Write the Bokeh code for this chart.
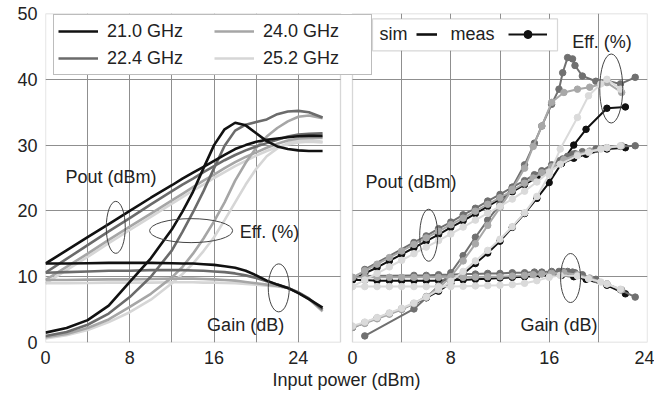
from bokeh.plotting import figure
from bokeh.models import (Range1d, FixedTicker, Grid, Legend, LegendItem,
                          Label, BoxAnnotation)
from bokeh.embed import file_html
from bokeh.resources import INLINE

# ---------------- data ----------------
freqs = ["21.0 GHz", "22.4 GHz", "24.0 GHz", "25.2 GHz"]
colors_sim = ["#111111", "#6b6b6b", "#a6a6a6", "#d6d6d6"]
colors_meas = ["#111111", "#707070", "#a8a8a8", "#dadada"]

# simulated (left panel), input power in dBm
x_sim = [0, 2, 4, 6, 8, 10, 12, 13, 14, 15, 16, 17, 18, 19, 20, 21, 22, 23, 24, 25, 26.3]

pout_sim_21_0 = [12.0, 14.0, 16.0, 18.0, 20.0, 22.0, 23.9, 24.9, 25.8, 26.7, 27.6, 28.5, 29.4, 30.0, 30.5, 30.8, 31.0, 31.2, 31.35, 31.4, 31.4]
gain_sim_21_0 = [12.0, 12.0, 12.05, 12.1, 12.1, 12.1, 12.05, 12.0, 12.0, 11.9, 11.8, 11.6, 11.35, 10.9, 10.2, 9.4, 8.8, 8.3, 7.5, 6.6, 5.3]
eff_sim_21_0 = [1.5, 2.2, 3.4, 5.6, 9.2, 12.8, 17.2, 19.9, 22.9, 26.5, 30.0, 32.4, 33.4, 33.0, 31.8, 30.6, 29.8, 29.4, 29.2, 29.1, 29.1]

pout_sim_22_4 = [10.6, 12.7, 14.8, 16.9, 18.9, 21.0, 23.0, 24.0, 24.9, 25.9, 26.8, 27.7, 28.5, 29.2, 29.8, 30.3, 30.8, 31.3, 31.6, 31.7, 31.8]
gain_sim_22_4 = [10.6, 10.7, 10.8, 10.9, 10.9, 11.0, 11.0, 11.0, 10.95, 10.9, 10.8, 10.7, 10.5, 10.2, 9.8, 9.3, 8.8, 8.3, 7.6, 6.7, 5.0]
eff_sim_22_4 = [1.0, 1.6, 2.7, 4.4, 6.9, 10.0, 14.0, 16.8, 19.8, 23.0, 26.5, 29.9, 32.2, 33.1, 33.5, 33.9, 34.7, 35.1, 35.2, 35.0, 34.2]

pout_sim_24_0 = [9.5, 11.5, 13.5, 15.6, 17.6, 19.6, 21.6, 22.6, 23.6, 24.6, 25.5, 26.5, 27.4, 28.2, 28.9, 29.6, 30.2, 30.7, 31.0, 31.1, 31.1]
gain_sim_24_0 = [9.5, 9.5, 9.55, 9.6, 9.6, 9.65, 9.7, 9.7, 9.7, 9.65, 9.6, 9.5, 9.4, 9.2, 9.0, 8.8, 8.6, 8.3, 7.6, 6.6, 4.8]
eff_sim_24_0 = [0.8, 1.3, 2.2, 3.5, 5.4, 7.4, 9.9, 11.5, 13.5, 15.8, 18.4, 21.3, 24.6, 27.3, 29.6, 31.3, 32.6, 33.6, 34.3, 34.5, 34.1]

pout_sim_25_2 = [9.0, 11.0, 13.0, 15.1, 17.1, 19.1, 21.1, 22.1, 23.1, 24.0, 25.0, 25.9, 26.8, 27.6, 28.4, 29.1, 29.7, 30.1, 30.4, 30.5, 30.4]
gain_sim_25_2 = [9.0, 9.0, 9.05, 9.1, 9.1, 9.1, 9.15, 9.15, 9.15, 9.1, 9.1, 9.05, 9.0, 8.9, 8.8, 8.65, 8.5, 8.3, 7.6, 6.6, 4.7]
eff_sim_25_2 = [0.6, 1.1, 1.9, 3.1, 4.6, 6.5, 9.0, 10.4, 12.0, 13.9, 16.0, 18.6, 21.3, 24.0, 26.4, 28.3, 29.5, 30.3, 30.7, 30.8, 30.5]

# measured (right panel)
x_meas_21_0 = [0, 1, 2, 3, 4, 5, 6, 7, 8, 9, 10, 11, 12, 13, 14, 15, 16, 17, 18, 19, 20.7, 22.2]
pout_meas_21_0 = [9.5, 10.5, 11.4, 12.4, 13.4, 14.4, 15.4, 16.4, 17.5, 18.5, 19.6, 20.7, 21.8, 22.9, 24.0, 25.1, 26.2, 27.2, 28.0, 28.6, 29.4, 29.6]
gain_meas_21_0 = [9.5, 9.5, 9.4, 9.4, 9.4, 9.4, 9.4, 9.4, 9.5, 9.5, 9.6, 9.7, 9.8, 9.9, 10.0, 10.1, 10.2, 10.2, 10.0, 9.6, 8.7, 7.4]
eff_meas_21_0 = [2.3, 3.0, 3.7, 4.4, 5.1, 5.9, 6.8, 7.8, 9.0, 10.4, 12.0, 13.6, 15.4, 17.5, 19.6, 21.9, 24.3, 27.2, 30.0, 32.4, 35.6, 35.8]

x_meas_22_4 = [1, 5, 6, 7, 8, 9, 10, 11, 12, 13, 14, 14.8, 15.4, 16.2, 16.8, 17.1, 17.5, 17.9, 18.1, 18.7, 19.8, 20.7, 21.8, 23.0]
pout_meas_22_4 = [11.1, 15.2, 16.2, 17.3, 18.3, 19.4, 20.4, 21.5, 22.5, 23.6, 24.6, 25.5, 26.1, 27.0, 27.6, 27.9, 28.3, 28.6, 28.7, 29.0, 29.4, 29.6, 29.8, 29.9]
gain_meas_22_4 = [10.1, 10.2, 10.2, 10.3, 10.3, 10.4, 10.4, 10.5, 10.5, 10.6, 10.6, 10.7, 10.7, 10.8, 10.8, 10.8, 10.8, 10.7, 10.6, 10.3, 9.6, 8.9, 8.0, 6.9]
eff_meas_22_4 = [1.0, 5.1, 6.8, 8.6, 10.6, 13.2, 16.0, 18.6, 21.0, 23.6, 27.0, 30.3, 32.9, 36.2, 38.5, 41.0, 43.3, 43.1, 42.1, 40.5, 39.7, 39.8, 39.3, 40.3]

x_meas_24_0 = [0, 1, 2, 3, 4, 5, 6, 7, 8, 9, 10, 11, 12, 13, 14, 14.7, 15.4, 16.2, 17.2, 18.3, 19.3, 20.7, 21.9]
pout_meas_24_0 = [9.9, 10.9, 11.9, 12.9, 13.9, 14.9, 15.9, 16.9, 17.9, 18.9, 19.95, 21.0, 22.0, 23.1, 24.2, 25.0, 25.8, 26.7, 27.8, 28.6, 29.1, 29.6, 29.9]
gain_meas_24_0 = [9.9, 9.9, 9.9, 9.9, 9.9, 9.9, 9.9, 9.9, 9.9, 9.9, 9.95, 10.0, 10.0, 10.1, 10.2, 10.3, 10.4, 10.5, 10.6, 10.3, 9.8, 8.9, 8.0]
eff_meas_24_0 = [2.3, 2.9, 3.6, 4.3, 5.0, 5.9, 7.0, 8.3, 10.0, 12.4, 15.0, 17.8, 20.5, 23.3, 26.5, 29.8, 32.9, 36.5, 38.0, 38.5, 38.8, 39.5, 38.0]

x_meas_25_2 = [0, 1, 2, 3, 4, 5, 6, 7, 8, 9, 10, 11, 12, 13, 14, 15, 16, 16.9, 18.3, 19.2, 20.2, 20.7, 21.8]
pout_meas_25_2 = [8.5, 9.5, 10.5, 11.5, 12.5, 13.5, 14.5, 15.5, 16.5, 17.55, 18.6, 19.65, 20.7, 21.8, 23.0, 24.4, 25.9, 27.1, 28.4, 28.9, 29.4, 29.6, 29.9]
gain_meas_25_2 = [8.5, 8.5, 8.5, 8.5, 8.5, 8.5, 8.5, 8.5, 8.5, 8.55, 8.6, 8.65, 8.7, 8.8, 9.0, 9.4, 9.9, 10.2, 10.1, 9.7, 9.2, 8.9, 8.1]
eff_meas_25_2 = [2.5, 3.1, 3.8, 4.5, 5.2, 6.0, 6.9, 8.0, 9.3, 10.8, 12.4, 14.0, 15.7, 17.6, 19.7, 22.2, 25.5, 29.4, 34.2, 37.5, 39.3, 40.0, 38.5]

x_ticks = [0, 8, 16, 24]
y_ticks = [0, 10, 20, 30, 40, 50]

sim_series = [
    (pout_sim_21_0, gain_sim_21_0, eff_sim_21_0),
    (pout_sim_22_4, gain_sim_22_4, eff_sim_22_4),
    (pout_sim_24_0, gain_sim_24_0, eff_sim_24_0),
    (pout_sim_25_2, gain_sim_25_2, eff_sim_25_2),
]
meas_series = [
    (x_meas_21_0, pout_meas_21_0, gain_meas_21_0, eff_meas_21_0),
    (x_meas_22_4, pout_meas_22_4, gain_meas_22_4, eff_meas_22_4),
    (x_meas_24_0, pout_meas_24_0, gain_meas_24_0, eff_meas_24_0),
    (x_meas_25_2, pout_meas_25_2, gain_meas_25_2, eff_meas_25_2),
]

# ---------------- layout constants ----------------
FONT = "Liberation Sans"
FS = "18px"
TXT = "#222222"
GRID = "#8f8f8f"
BORDER = "#7a7a7a"
LEFT_MAX, RIGHT_MAX = 28, 24
PANEL_PX, GAP_PX = 295, 12
FRAME_PX = 2 * PANEL_PX + GAP_PX

L0, L1 = 0, LEFT_MAX * FRAME_PX / PANEL_PX
R1 = RIGHT_MAX
R0 = R1 - RIGHT_MAX * FRAME_PX / PANEL_PX


def right_to_left(v):
    pos = L0 + (v - R0) * (L1 - L0) / (R1 - R0)
    return round(min(pos, L1 - 1e-3), 4)


p = figure(width=654, height=395, output_backend="svg", toolbar_location=None,
           x_range=Range1d(L0, L1), y_range=Range1d(0, 50),
           min_border_left=45, min_border_right=7, min_border_top=13, min_border_bottom=53)
p.title.visible = False
p.extra_x_ranges = {"right": Range1d(R0, R1)}
p.outline_line_color = None
p.background_fill_color = "white"
p.border_fill_color = "white"

# grids
p.xgrid[0].ticker = FixedTicker(ticks=[4, 8, 12, 16, 20, 24])
p.ygrid[0].ticker = FixedTicker(ticks=[10, 20, 30, 40])
for g in (p.xgrid[0], p.ygrid[0]):
    g.grid_line_color = GRID
    g.grid_line_width = 1
p.add_layout(Grid(dimension=0, x_range_name="right", ticker=FixedTicker(ticks=[4, 8, 12, 16, 20]),
                  grid_line_color=GRID, grid_line_width=1), "center")

# gap between panels and panel borders
p.add_layout(BoxAnnotation(left=LEFT_MAX, right=right_to_left(0), fill_color="white", fill_alpha=1,
                           line_color=None, level="glyph"))
p.add_layout(BoxAnnotation(left=0, right=LEFT_MAX, bottom=0, top=50, fill_alpha=0,
                           line_color=BORDER, line_width=1.3, level="glyph"))
p.add_layout(BoxAnnotation(left=0, right=RIGHT_MAX, bottom=0, top=50, fill_alpha=0, x_range_name="right",
                           line_color=BORDER, line_width=1.3, level="glyph"))

# axes
xa = p.xaxis[0]
right_pos = [right_to_left(v) for v in x_ticks]
xa.ticker = FixedTicker(ticks=list(x_ticks) + right_pos)
overrides = {v: str(v) for v in x_ticks}
overrides.update({pos: str(v) for pos, v in zip(right_pos, x_ticks)})
xa.major_label_overrides = overrides
xa.axis_label = "Input power (dBm)"
xa.major_label_standoff = 8
xa.axis_label_standoff = 3
ya = p.yaxis[0]
ya.ticker = FixedTicker(ticks=y_ticks)
ya.major_label_standoff = 8
for a in (xa, ya):
    a.axis_line_color = None
    a.major_tick_line_color = None
    a.minor_tick_line_color = None
    a.major_tick_out = 0
    a.major_tick_in = 0
    a.major_label_text_font = FONT
    a.major_label_text_font_size = FS
    a.major_label_text_color = TXT
    a.axis_label_text_font = FONT
    a.axis_label_text_font_size = FS
    a.axis_label_text_font_style = "normal"
    a.axis_label_text_color = TXT

# left panel: simulated curves
sim_pout_r = {}
for i in reversed(range(4)):
    pout, gain, eff = sim_series[i]
    sim_pout_r[i] = p.line(x_sim, pout, line_color=colors_sim[i], line_width=2.6)
    p.line(x_sim, gain, line_color=colors_sim[i], line_width=2.6)
    p.line(x_sim, eff, line_color=colors_sim[i], line_width=2.6)

# right panel: measured curves
meas_pout_r = {}
for i in range(4):
    xm, pout, gain, eff = meas_series[i]
    for k, ys in enumerate((pout, gain, eff)):
        rl = p.line(xm, ys, line_color=colors_meas[i], line_width=2, x_range_name="right")
        rs = p.scatter(xm, ys, marker="circle", size=6.5, fill_color=colors_meas[i],
                       line_color=colors_meas[i], x_range_name="right")
        if k == 0:
            meas_pout_r[i] = (rl, rs)

# callout ellipses (screen-sized)
ell_left_x = [6.67, 13.82, 22.14]
ell_left_y = [17.5, 17.0, 8.3]
ell_left_w = [19, 83, 21]
ell_left_h = [52, 24, 48]
p.ellipse(x=ell_left_x, y=ell_left_y, width=ell_left_w, height=ell_left_h,
          width_units="screen", height_units="screen", fill_alpha=0, line_color="#444444", line_width=1)
ell_right_x = [6.2, 17.74, 21.05]
ell_right_y = [16.3, 9.8, 38.6]
ell_right_w = [18, 20, 23]
ell_right_h = [52, 49, 69]
p.ellipse(x=ell_right_x, y=ell_right_y, width=ell_right_w, height=ell_right_h,
          width_units="screen", height_units="screen", fill_alpha=0, line_color="#444444",
          line_width=1, x_range_name="right")

# curve labels
labels = [
    ("Pout (dBm)", 1.9, 25.2, "default"),
    ("Eff. (%)", 18.43, 16.85, "default"),
    ("Gain (dB)", 15.34, 2.6, "default"),
    ("Pout (dBm)", 1.06, 24.45, "right"),
    ("Eff. (%)", 17.87, 45.7, "right"),
    ("Gain (dB)", 13.67, 2.7, "right"),
]
for text, lx, ly, rng in labels:
    p.add_layout(Label(x=lx, y=ly, text=text, x_range_name=rng, text_font=FONT, text_font_size=FS,
                       text_color=TXT, text_baseline="middle", text_align="left"))

# frequency legend (left)
leg = Legend(items=[LegendItem(label=freqs[i], renderers=[sim_pout_r[i]]) for i in range(4)],
             location=(8, 266.7), ncols=2, orientation="vertical",
             border_line_color=BORDER, border_line_width=1.2,
             background_fill_color="white", background_fill_alpha=1,
             padding=4, spacing=3, margin=0, glyph_width=40, glyph_height=24,
             label_height=24, label_width=104, label_standoff=9,
             label_text_font=FONT, label_text_font_size=FS, label_text_color=TXT)

# sim / meas legend (right)
p.add_layout(BoxAnnotation(left=327, right=512, bottom=291.7, top=323.7,
                           left_units="screen", right_units="screen",
                           bottom_units="screen", top_units="screen",
                           fill_color="white", fill_alpha=1, line_color=BORDER, line_width=1.2))
p.add_layout(Label(x=334, y=308.4, x_units="screen", y_units="screen", text="sim", text_font=FONT,
                   text_font_size=FS, text_color=TXT, text_baseline="middle"))
p.add_layout(Label(x=405, y=308.4, x_units="screen", y_units="screen", text="meas", text_font=FONT,
                   text_font_size=FS, text_color=TXT, text_baseline="middle"))
common = dict(border_line_color=None, background_fill_alpha=0, padding=0, margin=0, spacing=0,
              glyph_height=20, label_height=20, label_width=0, label_standoff=0,
              label_text_font_size="1px")
leg_sim = Legend(items=[LegendItem(label=" ", renderers=[sim_pout_r[0]])], location=(371, 298.4),
                 glyph_width=21, **common)
leg_meas = Legend(items=[LegendItem(label=" ", renderers=list(meas_pout_r[0]))], location=(463, 298.4),
                  glyph_width=39, **common)
p.add_layout(leg_sim, "center")
p.add_layout(leg_meas, "center")
p.add_layout(leg, "center")

open("out.html", "w").write(file_html(p, INLINE))
